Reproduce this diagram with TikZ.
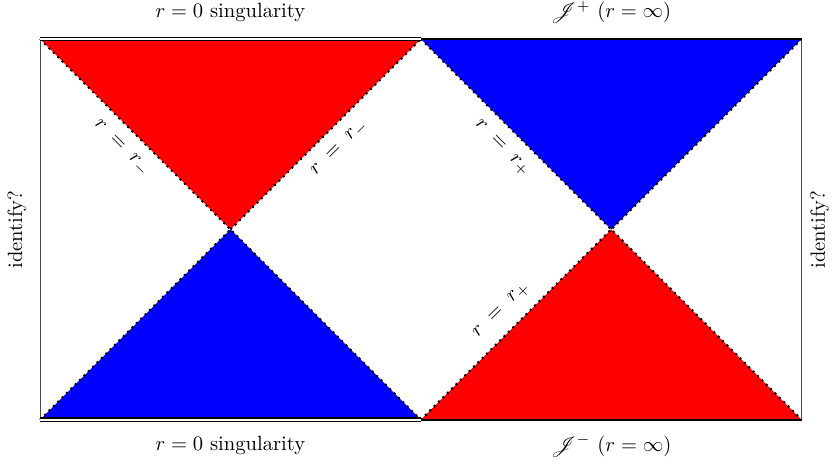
\documentclass[tikz,border=0pt]{standalone}
\usepackage{amsmath,amssymb}
\usepackage{mathrsfs}
\usepackage{tikz}
\usetikzlibrary{calc,positioning}

\tikzset{
    horizon/.style={dotted, line width=1pt},
    hlabel/.style={midway, sloped, inner sep=6pt}
}

\begin{document}
\begin{tikzpicture}[scale=1.625]
        \useasboundingbox (-0.42,-0.514) rectangle (8.34,4.41);

        \coordinate (bl) at (0,0);
        \coordinate (bm) at (4,0);
        \coordinate (br) at (8,0);
        \coordinate (tl) at (0,4);
        \coordinate (tm) at (4,4);
        \coordinate (tr) at (8,4);
        \coordinate (cl) at (2,2);
        \coordinate (cr) at (6,2);

        \fill[red] (tl) -- (tm) -- (cl) -- cycle;
        \fill[blue] (bl) -- (bm) -- (cl) -- cycle;
        \fill[blue] (tm) -- (tr) -- (cr) -- cycle;
        \fill[red] (bm) -- (br) -- (cr) -- cycle;

        \draw[horizon] (tl) -- (cl) node[hlabel, below] {$r \;=\; r_-$};
        \draw[horizon] (cl) -- (tm) node[hlabel, below] {$r \;=\; r_-$};
        \draw[horizon] (bl) -- (cl) -- (bm);
        \draw[horizon] (tm) -- (cr) node[hlabel, below] {$r \;=\; r_+$};
        \draw[horizon] (bm) -- (cr) node[hlabel, above] {$r \;=\; r_+$};
        \draw[horizon] (tr) -- (cr) -- (br);

        \draw[thin, black!70] (bl) -- (tl);
        \draw[thin, black!70] (br) -- (tr);
        \draw[double, double distance=1pt, line width=0.7pt] (tl) -- (tm);
        \draw[double, double distance=1pt, line width=0.7pt] (bl) -- (bm);
        \draw[line width=1.3pt] (tm) -- (tr);
        \draw[line width=1.3pt] (bm) -- (br);

        \node (singtop) at (2,4.28) {$r=0$ singularity};
        \node (singbot) at (2,-0.273) {$r=0$ singularity};
        \node (scriplus) at (6,4.28) {$\mathscr{J}^+$ $(r=\infty)$};
        \node (scriminus) at (6,-0.273) {$\mathscr{J}^-$ $(r=\infty)$};
        \node[rotate=90] (identl) at (-0.241,2) {identify?};
        \node[rotate=90] (identr) at (8.19,2) {identify?};
    \end{tikzpicture}
\end{document}
